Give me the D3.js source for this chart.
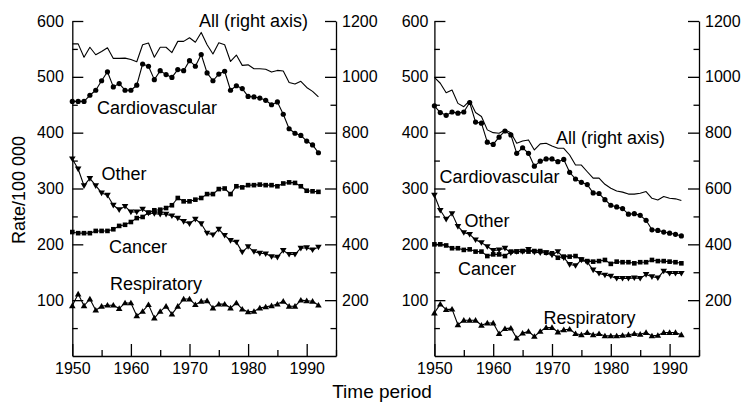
<!DOCTYPE html>
<html><head><meta charset="utf-8">
<script src="https://cdn.jsdelivr.net/npm/d3@7/dist/d3.min.js"></script>
<style>
body{margin:0;background:#fff}
svg{display:block}
text{font-family:"Liberation Sans",Arial,Helvetica,sans-serif;fill:#000}
</style>
</head><body>
<svg id="c" width="743" height="403"></svg>
<script>
const years = [1950,1951,1952,1953,1954,1955,1956,1957,1958,1959,1960,1961,1962,1963,1964,1965,1966,1967,1968,1969,1970,1971,1972,1973,1974,1975,1976,1977,1978,1979,1980,1981,1982,1983,1984,1985,1986,1987,1988,1989,1990,1991,1992];

// Left panel
const leftAll = [1118,1118,1070,1106,1079,1091,1104,1066,1066,1067,1062,1054,1115,1121,1070,1106,1106,1087,1127,1127,1140,1124,1159,1115,1082,1122,1115,1055,1078,1041,1043,1029,1029,1027,1017,1023,1021,980,974,984,962,948,928];
const leftCardio = [456,456,456,467,476,493,509,482,488,476,476,485,523,519,495,511,504,499,513,511,529,519,540,507,493,505,510,476,484,479,465,464,462,458,450,455,433,407,399,395,385,378,364];
const leftOther = [353,335,305,318,305,292,288,270,262,268,258,258,263,256,255,254,254,251,247,241,237,245,237,220,217,227,216,207,204,186,196,187,184,183,178,177,189,182,182,193,194,190,195];
const leftCancer = [222,220,220,220,224,224,224,227,233,235,240,247,249,257,261,262,265,270,283,277,277,280,283,290,290,299,300,290,304,302,306,306,307,306,306,304,309,311,310,304,296,295,294];
const leftResp = [90,111,90,102,82,89,91,91,85,95,95,72,80,92,68,80,89,75,89,102,102,92,98,99,86,93,93,86,95,84,79,80,86,88,90,93,98,89,89,100,99,98,91];

// Right panel
const rightAll = [998,977,943,953,905,893,915,872,858,810,800,798,810,800,762,770,774,738,760,762,752,744,744,720,684,684,660,637,637,615,601,591,587,580,580,583,589,565,559,571,565,563,557];
const rightCardio = [448,436,431,437,435,437,454,419,417,383,379,392,403,396,363,373,363,340,349,353,353,348,352,329,317,311,307,292,291,280,270,267,264,254,255,252,243,226,225,222,220,218,215];
const rightOther = [288,261,245,255,232,221,218,208,203,196,189,190,193,185,187,187,191,186,185,185,181,187,176,164,162,172,168,154,148,145,143,139,139,139,140,139,146,142,140,152,148,148,148];
const rightCancer = [200,200,198,193,193,190,191,187,187,179,182,182,179,187,187,188,187,188,188,185,184,176,178,178,179,173,170,169,170,172,165,169,168,168,166,168,168,172,170,170,169,168,166];
const rightResp = [77,93,83,84,56,64,64,64,55,59,59,40,49,50,32,41,44,35,44,51,51,43,47,48,40,38,42,38,40,36,36,36,37,38,40,39,42,36,37,42,42,42,38];

// Axis ticks
const leftMajor = [100,200,300,400,500,600];
const leftMinor = [50,150,250,350,450,550];
const rightMajor = [200,400,600,800,1000,1200];
const rightMinor = [100,300,500,700,900,1100];
const xMajor = [1950,1960,1970,1980,1990];
const xMinor = [1955,1965,1975,1985,1995];
const seriesNames = ["All (right axis)","Cardiovascular","Other","Cancer","Respiratory"];

const svg = d3.select("#c");
const yL = d3.scaleLinear().domain([0,600]).range([356,21]);
const yR = d3.scaleLinear().domain([0,1200]).range([356,21]);
const fmt = d3.format("d");

function styleAxis(g, fs){
  g.attr("font-family",'"Liberation Sans",Arial,sans-serif').attr("font-size",fs);
  g.selectAll("path.domain").attr("stroke","#000").attr("stroke-width",1.3);
  g.selectAll(".tick line").attr("stroke","#000").attr("stroke-width",1.3);
  g.selectAll(".tick text").attr("fill","#000");
}

function panel(xr, data, labelPos, padL){
  const x = d3.scaleLinear().domain([1950,1995]).range(xr);
  const g = svg.append("g");
  const aL = g.append("g").attr("transform",`translate(${xr[0]},0)`)
    .call(d3.axisLeft(yL).tickValues(leftMajor).tickFormat(fmt).tickSizeInner(-11).tickSizeOuter(0).tickPadding(padL));
  styleAxis(aL,16);
  const aLm = g.append("g").attr("transform",`translate(${xr[0]},0)`)
    .call(d3.axisLeft(yL).tickValues(leftMinor).tickSizeInner(-5.5).tickSizeOuter(0).tickFormat(""));
  aLm.select("path.domain").remove(); styleAxis(aLm,16);
  const aR = g.append("g").attr("transform",`translate(${xr[1]},0)`)
    .call(d3.axisRight(yR).tickValues(rightMajor).tickFormat(fmt).tickSizeInner(-11).tickSizeOuter(0).tickPadding(6));
  styleAxis(aR,16);
  const aRm = g.append("g").attr("transform",`translate(${xr[1]},0)`)
    .call(d3.axisRight(yR).tickValues(rightMinor).tickSizeInner(-5.5).tickSizeOuter(0).tickFormat(""));
  aRm.select("path.domain").remove(); styleAxis(aRm,16);
  const aB = g.append("g").attr("transform",`translate(0,${yL(0)})`)
    .call(d3.axisBottom(x).tickValues(xMajor).tickFormat(fmt).tickSizeInner(-12).tickSizeOuter(0).tickPadding(6.5));
  styleAxis(aB,16);
  const aBm = g.append("g").attr("transform",`translate(0,${yL(0)})`)
    .call(d3.axisBottom(x).tickValues(xMinor).tickSizeInner(-6).tickSizeOuter(0).tickFormat(""));
  aBm.select("path.domain").remove(); styleAxis(aBm,16);

  const mk = (arr) => arr.map((v,i)=>({year:years[i], v}));
  const lineL = d3.line().x(d=>x(d.year)).y(d=>yL(d.v));
  const lineR = d3.line().x(d=>x(d.year)).y(d=>yR(d.v));
  const drawLine = (arr, ln) => g.append("path").datum(mk(arr)).attr("d",ln)
      .attr("fill","none").attr("stroke","#000").attr("stroke-width",1.1).attr("stroke-linejoin","round");

  drawLine(data.all, lineR);
  drawLine(data.cardio, lineL);
  drawLine(data.other, lineL);
  drawLine(data.cancer, lineL);
  drawLine(data.resp, lineL);

  g.selectAll(null).data(mk(data.cardio)).join("circle")
    .attr("cx",d=>x(d.year)).attr("cy",d=>yL(d.v)).attr("r",2.6).attr("fill","#000");
  g.selectAll(null).data(mk(data.cancer)).join("rect")
    .attr("x",d=>x(d.year)-2.3).attr("y",d=>yL(d.v)-2.3).attr("width",4.6).attr("height",4.6).attr("fill","#000");
  g.selectAll(null).data(mk(data.other)).join("path")
    .attr("d",d=>{const cx=x(d.year), cy=yL(d.v); return `M${cx-3.3},${cy-2.4}L${cx+3.3},${cy-2.4}L${cx},${cy+3.2}Z`;})
    .attr("fill","#000");
  g.selectAll(null).data(mk(data.resp)).join("path")
    .attr("d",d=>{const cx=x(d.year), cy=yL(d.v); return `M${cx-3.3},${cy+2.4}L${cx+3.3},${cy+2.4}L${cx},${cy-3.2}Z`;})
    .attr("fill","#000");

  seriesNames.forEach((n,i)=>{
    g.append("text").attr("x",labelPos[i][0]).attr("y",labelPos[i][1]).attr("font-size",18).text(n);
  });
}

panel([72.3,336], {all:leftAll, cardio:leftCardio, other:leftOther, cancer:leftCancer, resp:leftResp},
  [[199,26.5],[97,114],[101.5,179.5],[109,252.5],[110,290]], 8.5);
panel([434.4,699], {all:rightAll, cardio:rightCardio, other:rightOther, cancer:rightCancer, resp:rightResp},
  [[556,144],[439.5,183],[464.5,226.5],[458,275],[543.5,324]], 6);

svg.append("text").attr("transform","translate(25,190) rotate(-90)").attr("text-anchor","middle")
  .attr("font-size",18).text("Rate/100 000");
svg.append("text").attr("x",382).attr("y",398).attr("text-anchor","middle")
  .attr("font-size",19).text("Time period");
</script>
</body></html>
